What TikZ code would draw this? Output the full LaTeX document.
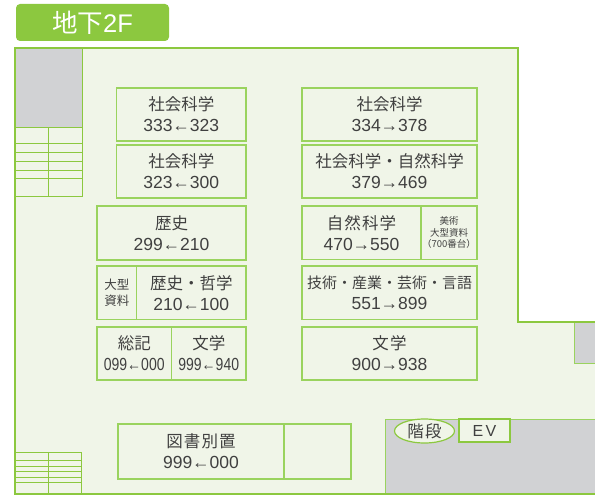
\documentclass[tikz,border=0pt]{standalone}
\usepackage{fontspec}
\usetikzlibrary{shapes.geometric}
\setmainfont{Liberation Sans}
\newfontfamily\cjk{Noto Sans CJK JP}
\newfontfamily\cjkwide{Noto Sans CJK JP}[LetterSpace=7]
\newfontfamily\narrownum{Liberation Sans}[FakeStretch=0.8]
\newfontfamily\evfont{Liberation Sans}[LetterSpace=14]
\definecolor{floorgreen}{HTML}{8CC83F}
\definecolor{shelfgreen}{HTML}{9AD35E}
\definecolor{floorbg}{HTML}{F0F5E8}
\definecolor{roomgray}{HTML}{D1D2D4}
\definecolor{labelgray}{HTML}{404040}
\newcommand{\catsize}{\fontsize{16.5}{21}\selectfont}
\newcommand{\numsize}{\fontsize{17.5}{21}\selectfont}
\newcommand{\notesize}{\fontsize{9.5}{11.5}\selectfont\cjk}
\newcommand{\sizesize}{\fontsize{12.5}{16}\selectfont\cjk}
\tikzset{
  shelf/.style={draw=shelfgreen, line width=1.2pt, inner sep=0pt, outer sep=0pt,
    anchor=north west, align=center, text=labelgray, fill=floorbg},
  room/.style={draw=shelfgreen, line width=1pt, fill=roomgray},
  stairline/.style={draw=floorgreen, line width=0.9pt}
}
\begin{document}
\begin{tikzpicture}[x=1pt,y=-1pt]
      \useasboundingbox (0,0) rectangle (595,495);

      % floor
      \fill[floorbg] (15,48) -- (518,48) -- (518,322) -- (595,322) -- (595,494) -- (15,494) -- cycle;
      \fill[roomgray] (16,49) rectangle (82,127);
      \draw[room] (574,322) -- (574,363) -- (595,363) -- (595,322);
      \fill[roomgray] (385,419) rectangle (595,493);
      \draw[shelfgreen, line width=1pt] (595,419) -- (385,419) -- (385,493);
      \draw[floorgreen, line width=1.8pt] (595,322) -- (518,322) -- (518,48) -- (15,48) -- (15,494) -- (595,494);

      \node[fill=floorgreen, rounded corners=4pt, minimum width=153pt, minimum height=37pt,
        inner sep=0pt, text=white, font=\fontsize{25.5}{25}\selectfont] (title) at (92.5,22.5) {{\cjk 地下}2F};

      % stairs
      \draw[stairline] (16,127) -- (82,127) -- (82,196) -- (16,196);
      \draw[stairline] (82,49) -- (82,127);
      \draw[stairline] (48,127) -- (48,196);
      \foreach \y in {143,152,161,170,178} {
        \draw[stairline] (16,\y) -- (82,\y);
      }
      \draw[stairline] (16,452) -- (81,452) -- (81,493);
      \draw[stairline] (48,452) -- (48,493);
      \foreach \y in {460,466,471,477,482} {
        \draw[stairline] (16,\y) -- (81,\y);
      }

      % shelves
      \foreach \n/\x/\y/\w/\h/\f/\t in {
        socA/116.5/88/129.5/53/\numsize/{{\catsize\cjk 社会科学}\\333←323},
        socB/116.5/145/129.5/53/\numsize/{{\catsize\cjk 社会科学}\\323←300},
        hist/97/206/149/54/\numsize/{{\catsize\cjk 歴史}\\299←210},
        sizeL/97/266/39.5/53.5/\sizesize/{大型\\資料},
        histB/136.5/266/109.5/53.5/\numsize/{{\catsize\cjk 歴史・哲学}\\210←100},
        gen/97/327/74.5/53/\numsize/{{\catsize\cjk 総記}\\{\narrownum 099←000}},
        litL/171.5/327/74.5/53/\numsize/{{\catsize\cjk 文学}\\{\narrownum 999←940}},
        socC/302/88/175/53/\numsize/{{\catsize\cjk 社会科学}\\334→378},
        socD/302/145/175/53/\numsize/{{\catsize\cjk 社会科学・自然科学}\\379→469},
        sci/302/206/119/53.5/\numsize/{{\catsize\cjkwide 自然科学}\\470→550},
        art/421/206/56/53.5/\notesize/{美術\\大型資料\\（700番台）},
        tech/302/266/175/53.5/\numsize/{{\fontsize{15}{21}\selectfont\cjk 技術・産業・芸術・言語}\\551→899},
        litR/302/327/175/53/\numsize/{{\catsize\cjkwide 文学}\\900→938},
        ref/118/424/166/55/\numsize/{{\catsize\cjkwide 図書別置}\\999←000},
        refB/284/424/67/55/\numsize/{}
      } {
        \node[shelf, font=\f, minimum width=\w pt, minimum height=\h pt] (\n) at (\x,\y) {\t};
      }

      \node[draw=floorgreen, line width=1.2pt, fill=floorbg, ellipse, minimum width=60pt, minimum height=24pt,
        inner sep=0pt, text=labelgray, font=\catsize\cjkwide] (stairs) at (424.5,431) {階段};
      \node[shelf, draw=floorgreen, minimum width=51pt, minimum height=23pt,
        font=\fontsize{16}{18}\selectfont\evfont] (ev) at (459,419) {EV};
    \end{tikzpicture}
\end{document}
